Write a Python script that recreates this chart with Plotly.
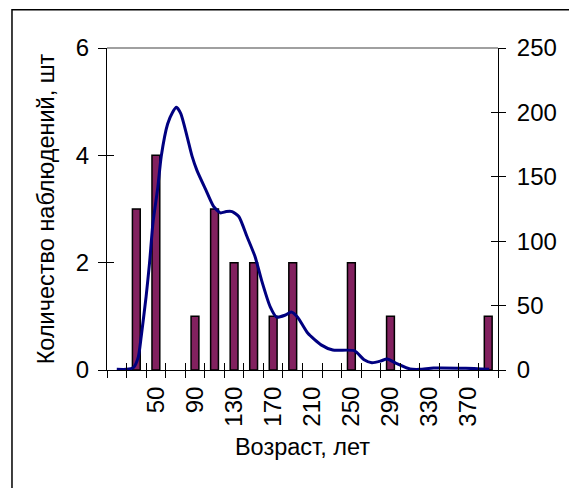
import plotly.graph_objects as go

# Data
age_categories = [10, 30, 50, 70, 90, 110, 130, 150, 170, 190, 210, 230, 250, 270, 290, 310, 330, 350, 370, 390]
observations = [0, 3, 4, 0, 1, 3, 2, 2, 1, 2, 0, 0, 2, 0, 1, 0, 0, 0, 0, 1]

curve_x = [10, 20, 27, 32, 35, 40, 43.5, 47, 52, 55.5, 62, 67, 71, 75.5, 82, 87, 92, 101, 109, 116,
           122, 128, 135, 143, 151.5, 158, 167, 173.5, 182, 188.5, 195, 205.5, 219, 231, 253, 263,
           271, 280, 286.5, 296.5, 310, 320, 334, 367, 391]
curve_y = [0.5, 0.5, 1.8, 10, 26, 57, 83, 114, 142, 166, 191, 200, 204, 199, 181, 166, 155, 140, 127, 122,
           123, 123, 119, 104, 88, 70, 49, 41, 42.5, 45, 41, 28.5, 19.5, 15.5, 15, 8,
           5.7, 7, 8.5, 5, 0.8, 0.5, 1.5, 1.3, 0.5]

tick_labels = [50, 90, 130, 170, 210, 250, 290, 330, 370]
boundaries = list(range(0, 401, 20))

FONT = "Liberation Sans, Arial, sans-serif"

bar_x = [a for a, o in zip(age_categories, observations) if o > 0]
bar_y = [o for o in observations if o > 0]

fig = go.Figure()
fig.add_trace(go.Bar(x=bar_x, y=bar_y, width=8,
                     marker=dict(color="#82215F", line=dict(color="black", width=1.5)),
                     xaxis="x", yaxis="y", showlegend=False))
fig.add_trace(go.Scatter(x=curve_x, y=curve_y, mode="lines",
                         line=dict(color="#000080", width=3, shape="spline", smoothing=0.6),
                         xaxis="x", yaxis="y2", showlegend=False))
# dummy traces for tick overlay axes
for xa, ya in [("x3", "y"), ("x4", "y"), ("x", "y3"), ("x", "y4")]:
    fig.add_trace(go.Scatter(x=[None], y=[None], xaxis=xa, yaxis=ya, showlegend=False, hoverinfo="skip"))

common = dict(showgrid=False, zeroline=False)
TICKF = 24
TITLEF = 23.5
fig.update_layout(
    width=569, height=488,
    margin=dict(l=107, r=67, t=48, b=118),
    paper_bgcolor="white", plot_bgcolor="white",
    font=dict(family=FONT, size=TICKF, color="black"),
    xaxis=dict(range=[0, 400], tickvals=tick_labels, ticktext=[str(v) for v in tick_labels],
               tickangle=-90, ticks="", showline=True, linecolor="black", linewidth=1,
               ticklabelstandoff=6,
               title=dict(text="Возраст, лет", font=dict(size=TITLEF), standoff=12), **common),
    xaxis3=dict(range=[0, 400], overlaying="x", anchor="y", tickvals=boundaries, ticks="outside",
                ticklen=7, tickcolor="black", showticklabels=False, showline=False, **common),
    xaxis4=dict(range=[0, 400], overlaying="x", anchor="y", tickvals=boundaries, ticks="inside",
                ticklen=7, tickcolor="black", showticklabels=False, showline=False, **common),
    yaxis=dict(range=[0, 6], tickvals=[0, 2, 4, 6], ticks="outside", ticklen=8, tickcolor="black",
               showline=True, linecolor="black", linewidth=1, ticklabelstandoff=4,
               title=dict(text="Количество наблюдений, шт", font=dict(size=TITLEF), standoff=14), **common),
    yaxis3=dict(range=[0, 6], overlaying="y", anchor="x", tickvals=[0, 2, 4, 6], ticks="inside",
                ticklen=7, tickcolor="black", showticklabels=False, showline=False, **common),
    yaxis2=dict(range=[0, 250], overlaying="y", side="right", anchor="x", tickvals=[0, 50, 100, 150, 200, 250],
                ticks="outside", ticklen=7, tickcolor="black", showline=True, linecolor="black", linewidth=1,
                ticklabelstandoff=6, **common),
    yaxis4=dict(range=[0, 250], overlaying="y", side="right", anchor="x", tickvals=[0, 50, 100, 150, 200, 250],
                ticks="inside", ticklen=7, tickcolor="black", showticklabels=False, showline=False, **common),
    shapes=[
        dict(type="line", xref="paper", yref="paper", x0=0, x1=1, y0=1, y1=1,
             line=dict(color="#808080", width=1.5)),
        dict(type="rect", xref="paper", yref="paper", x0=-0.243, x1=1.3, y0=-0.8, y1=1.1185,
             line=dict(color="black", width=1.5), layer="below"),
    ],
)

fig.write_html("out.html")
